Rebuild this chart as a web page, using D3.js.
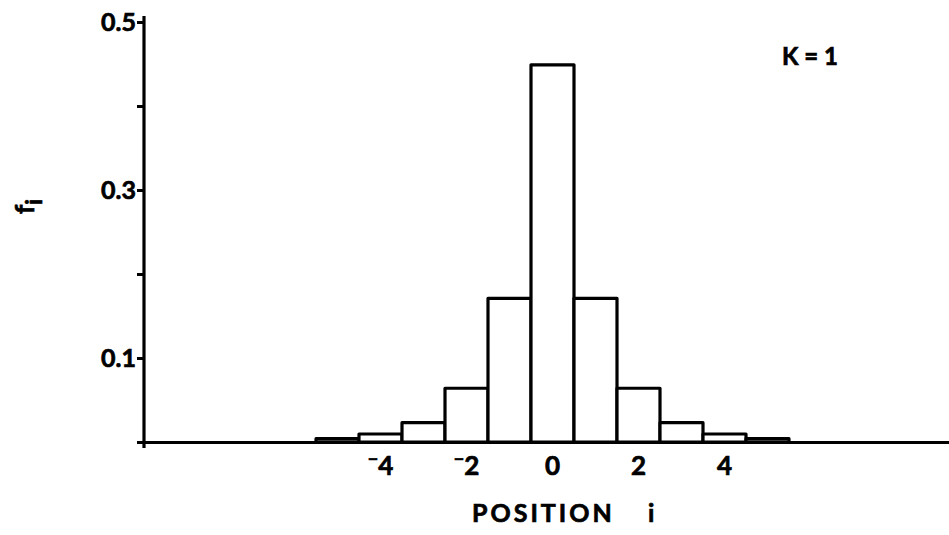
<!DOCTYPE html>
<html>
<head>
<meta charset="utf-8">
<script src="https://cdn.jsdelivr.net/npm/d3@7"></script>
<style>
  html, body { margin: 0; padding: 0; background: #fff; }
  svg { display: block; }
  text { font-family: Lato, "DejaVu Sans", sans-serif; font-weight: 700; fill: #000; stroke: #000; stroke-width: 0.7px; }
</style>
</head>
<body>
<svg id="chart" width="949" height="535"></svg>
<script>
// Occupation probability f_i at each position i for K = 1
const positions = [-5, -4, -3, -2, -1, 0, 1, 2, 3, 4, 5];
const fValues   = [0.004, 0.0095, 0.023, 0.064, 0.171, 0.449, 0.171, 0.064, 0.023, 0.0095, 0.004];

const yTicks       = [0, 0.1, 0.2, 0.3, 0.4, 0.5];
const yTickLabels  = ["0.1", "0.3", "0.5"];
const yLabelValues = [0.1, 0.3, 0.5];
const xLabelValues = [-4, -2, 0, 2, 4];
const kLabel = "K = 1";

const svg = d3.select("#chart");

const x = d3.scaleLinear().domain([-9.5, 9.5]).range([144, 961]);
const y = d3.scaleLinear().domain([0, 0.5]).range([442, 22]);

// histogram bars, one unit wide, centred on each position
svg.append("g")
  .selectAll("rect")
  .data(positions.map((p, k) => ({ p, v: fValues[k] })))
  .join("rect")
  .attr("x", d => x(d.p - 0.5))
  .attr("y", d => y(d.v))
  .attr("width", d => x(d.p + 0.5) - x(d.p - 0.5))
  .attr("height", d => y(0) - y(d.v))
  .attr("fill", "#fff")
  .attr("stroke", "#000")
  .attr("stroke-width", 3.2)
  .attr("stroke-linejoin", "round");

// y axis with ticks at every 0.1, labels at odd tenths
const yAxis = d3.axisLeft(y)
  .tickValues(yTicks)
  .tickSize(7)
  .tickFormat("");
const gy = svg.append("g").attr("transform", `translate(${x(-9.5)},0)`).call(yAxis);
gy.select(".domain").remove();
gy.selectAll(".tick line").attr("stroke", "#000").attr("stroke-width", 3);
svg.append("line")
  .attr("x1", x(-9.5)).attr("x2", x(-9.5))
  .attr("y1", y(0.5) - 6).attr("y2", y(0) + 6)
  .attr("stroke", "#000").attr("stroke-width", 3.2);

svg.append("g")
  .selectAll("text")
  .data(yLabelValues)
  .join("text")
  .attr("x", x(-9.5) - 8)
  .attr("y", d => y(d))
  .attr("dy", "0.36em")
  .attr("text-anchor", "end")
  .attr("font-size", 25)
  .text((d, k) => yTickLabels[k]);

// x axis (baseline)
const xAxis = d3.axisBottom(x).tickValues([]).tickSizeOuter(0);
const gx = svg.append("g").attr("transform", `translate(0,${y(0)})`).call(xAxis);
gx.select(".domain").attr("stroke", "#000").attr("stroke-width", 3.2);

// x tick labels, negative sign raised
const xl = svg.append("g")
  .selectAll("text")
  .data(xLabelValues)
  .join("text")
  .attr("x", d => x(d))
  .attr("y", 475)
  .attr("text-anchor", "middle")
  .attr("font-size", 26);
xl.each(function(d) {
  const t = d3.select(this);
  if (d < 0) {
    t.append("tspan").attr("font-size", 18).attr("dy", -9).text("\u2212");
    t.append("tspan").attr("dy", 9).text(Math.abs(d));
  } else {
    t.text(d);
  }
});

// axis titles
svg.append("text")
  .attr("x", 472).attr("y", 522)
  .attr("font-size", 25)
  .attr("letter-spacing", 3)
  .text("POSITION");
svg.append("text")
  .attr("x", 648).attr("y", 522)
  .attr("font-size", 25)
  .text("i");

const fl = svg.append("text")
  .attr("transform", "translate(34,214) rotate(-90)")
  .attr("font-size", 26);
fl.append("tspan").text("f");
fl.append("tspan").attr("font-size", 22).attr("dy", 8).text("i");

svg.append("text")
  .attr("x", 782).attr("y", 65)
  .attr("font-size", 24)
  .text(kLabel);
</script>
</body>
</html>
